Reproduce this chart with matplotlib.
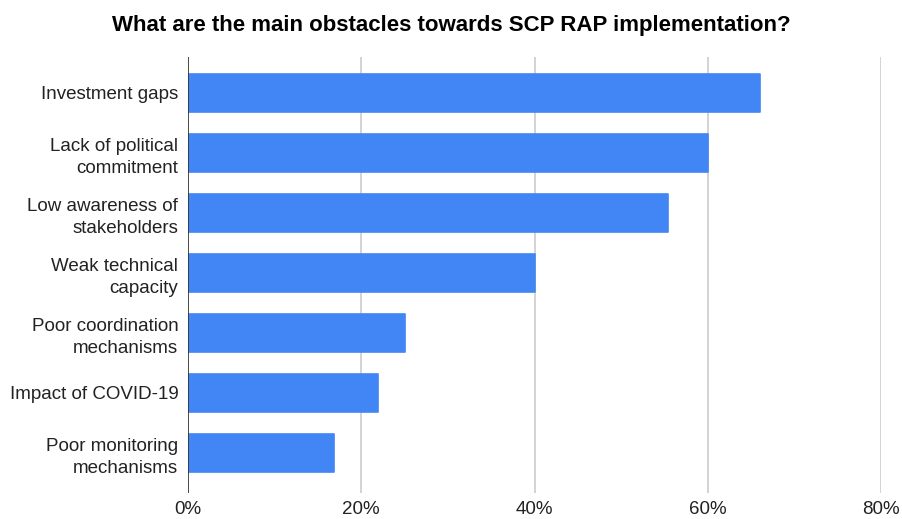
import matplotlib
matplotlib.use("Agg")
import matplotlib.pyplot as plt
from matplotlib.ticker import FuncFormatter

plt.rcParams['font.family'] = ['Liberation Sans', 'DejaVu Sans']

categories = [
    "Investment gaps",
    "Lack of political\ncommitment",
    "Low awareness of\nstakeholders",
    "Weak technical\ncapacity",
    "Poor coordination\nmechanisms",
    "Impact of COVID-19",
    "Poor monitoring\nmechanisms",
]
values = [66.0, 60.0, 55.4, 40.0, 25.0, 21.9, 16.8]
x_ticks = [0, 20, 40, 60, 80]

fig = plt.figure(figsize=(9.03, 5.19), dpi=100)
ax = fig.add_axes([188 / 903, 26 / 519, (881 - 188) / 903, (493 - 57) / 519])

pos = list(range(len(categories)))
ax.barh(pos, values, height=0.64, color="#4285F4", edgecolor="#4285F4",
        linewidth=1.2, joinstyle="round", zorder=3)

ax.set_xlim(0, 80)
ax.set_ylim(len(categories) - 1 + 0.667, -0.6)
ax.set_xticks(x_ticks)
ax.xaxis.set_major_formatter(FuncFormatter(lambda v, _: f"{v:.0f}%"))
ax.set_yticks(pos)
ax.set_yticklabels(categories)

ax.grid(axis="x", color="#cccccc", linewidth=1.2, zorder=0)
ax.axvline(0, color="#333333", linewidth=1.2, zorder=4)
for s in ax.spines.values():
    s.set_visible(False)
ax.tick_params(axis="both", length=0, labelsize=13.5, colors="#222222")
ax.tick_params(axis="y", pad=7)
ax.tick_params(axis="x", pad=6)
for lab in ax.get_yticklabels():
    lab.set_horizontalalignment("right")
    lab.set_multialignment("right")
    lab.set_linespacing(1.36)

fig.text(0.5, 1 - 26 / 519, "What are the main obstacles towards SCP RAP implementation?",
         ha="center", va="center", fontsize=16, fontweight="bold", color="#000000")

fig.savefig("out.png", dpi=100, facecolor="white")
